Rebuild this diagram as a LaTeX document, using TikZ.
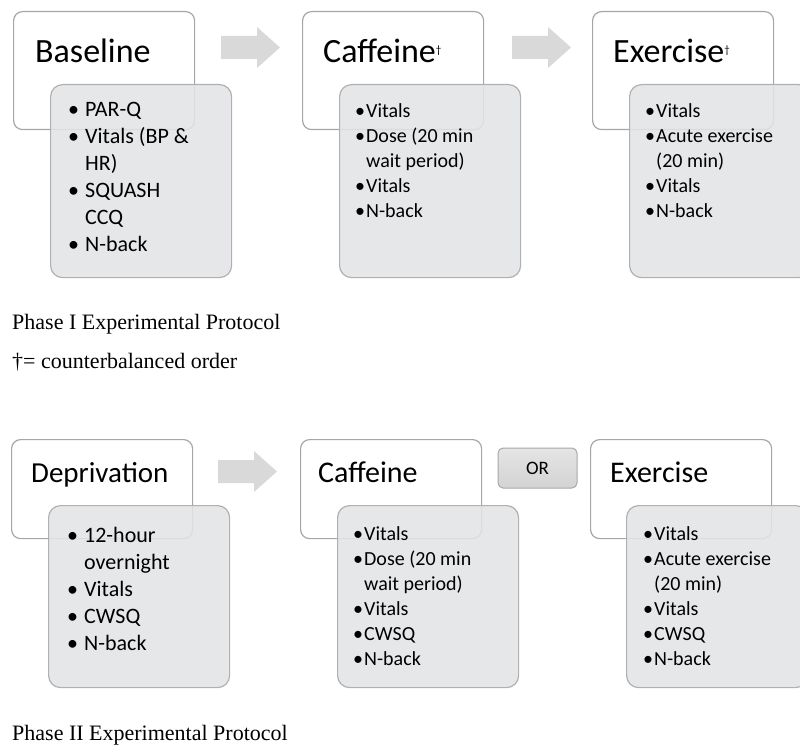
\documentclass[tikz,border=0pt]{standalone}
\usepackage{fontspec}
\setmainfont{Carlito}
\newfontfamily\serifont{Liberation Serif}
\usetikzlibrary{positioning}

\definecolor{hdrline}{HTML}{A6A6A6}
\definecolor{bodyline}{HTML}{B0B0B0}
\definecolor{bodyfill}{HTML}{E3E4E6}
\definecolor{arrowfill}{HTML}{D9D9D9}
\definecolor{orfill}{HTML}{D3D3D3}
\definecolor{orline}{HTML}{A8A8A8}

% list item with hanging indent
\newcommand{\itm}[2]{\par\hangindent=#1\hangafter=1\noindent\makebox[#1][l]{\textbullet}\strut#2}
% small dagger after a header
\newcommand{\cbmark}{\raisebox{9pt}{\fontsize{11}{11}\selectfont\textdagger}}
% grey block arrow: left end, middle height
\newcommand{\blockarrow}[2]{%
  \fill[arrowfill] (#1,{#2-11.5}) -- ({#1+36},{#2-11.5}) -- ({#1+36},{#2-20.5})
    -- ({#1+59},#2) -- ({#1+36},{#2+20.5}) -- ({#1+36},{#2+11.5}) -- (#1,{#2+11.5}) -- cycle;}

\tikzset{
  headbox/.style={draw=hdrline, line width=1.2pt, fill=white, rounded corners=9pt,
    minimum width=181pt, inner sep=0pt, anchor=north west},
  bodybox/.style={draw=bodyline, line width=1.2pt, fill=bodyfill, fill opacity=0.88,
    rounded corners=12pt, minimum width=181pt, inner sep=0pt, anchor=north west},
  headtext/.style={anchor=base west, inner sep=0pt},
  listbig/.style={anchor=north west, inner sep=0pt, text width=170pt, align=flush left,
    font=\fontsize{22}{27}\selectfont},
  listsmall/.style={anchor=north west, inner sep=0pt, text width=170pt, align=flush left,
    font=\fontsize{20}{25}\selectfont},
  caption/.style={anchor=base west, inner sep=0pt, font=\serifont\fontsize{22}{26}\selectfont},
  orbox/.style={draw=orline, line width=1pt, top color=orfill!60, bottom color=orfill,
    rounded corners=5pt, minimum width=79pt, minimum height=40pt, inner sep=0pt,
    font=\fontsize{19}{22}\selectfont}
}

\begin{document}
\begin{tikzpicture}[x=1pt, y=-1pt]
 \useasboundingbox (0,0) rectangle (800,746);

 % Phase I
 \node[headbox, minimum height=118pt] (basehd) at (13,11) {};
 \node[bodybox, minimum height=193pt] (basebd) at (50,84) {};
 \node[headtext, font=\fontsize{34}{38}\selectfont] (basett) at (35,63) {Baseline};
 \node[listbig] (baselst) at (68,89) {%
   \itm{17pt}{PAR-Q}
   \itm{17pt}{Vitals (BP \&\newline HR)}
   \itm{17pt}{SQUASH\newline CCQ}
   \itm{17pt}{N-back}};

 \blockarrow{221}{47.5}

 \node[headbox, minimum height=118pt] (cafhd) at (302,11) {};
 \node[bodybox, minimum height=193pt] (cafbd) at (339,84) {};
 \node[headtext, font=\fontsize{34}{38}\selectfont] (caftt) at (323,63) {Caffeine\cbmark};
 \node[listsmall] (caflst) at (355,92) {%
   \itm{11pt}{Vitals}
   \itm{11pt}{Dose (20 min\newline wait period)}
   \itm{11pt}{Vitals}
   \itm{11pt}{N-back}};

 \blockarrow{512}{47.5}

 \node[headbox, minimum height=118pt] (exehd) at (592,11) {};
 \node[bodybox, minimum height=193pt] (exebd) at (629,84) {};
 \node[headtext, font=\fontsize{34}{38}\selectfont] (exett) at (613,63) {Exercise\cbmark};
 \node[listsmall] (exelst) at (645,92) {%
   \itm{11pt}{Vitals}
   \itm{11pt}{Acute exercise\newline (20 min)}
   \itm{11pt}{Vitals}
   \itm{11pt}{N-back}};

 % captions Phase I
 \node[caption] (capone) at (12,329) {Phase I Experimental Protocol};
 \node[caption] (capdag) at (12,368) {\textdagger= counterbalanced order};

 % Phase II
 \node[headbox, minimum height=99pt] (dephd) at (11,439) {};
 \node[bodybox, minimum height=182pt] (depbd) at (48,505) {};
 \node[headtext, font=\fontsize{29}{33}\selectfont] (deptt) at (31,482) {Deprivation};
 \node[listbig] (deplst) at (67,515) {%
   \itm{17pt}{12-hour\newline overnight}
   \itm{17pt}{Vitals}
   \itm{17pt}{CWSQ}
   \itm{17pt}{N-back}};

 \blockarrow{218}{471.5}

 \node[headbox, minimum height=99pt] (caf2hd) at (300,439) {};
 \node[bodybox, minimum height=182pt] (caf2bd) at (337,505) {};
 \node[headtext, font=\fontsize{30}{34}\selectfont] (caf2tt) at (318,482) {Caffeine};
 \node[listsmall] (caf2lst) at (353,515) {%
   \itm{11pt}{Vitals}
   \itm{11pt}{Dose (20 min\newline wait period)}
   \itm{11pt}{Vitals}
   \itm{11pt}{CWSQ}
   \itm{11pt}{N-back}};

 \node[orbox] (orsel) at (537.5,468) {OR};

 \node[headbox, minimum height=99pt] (exe2hd) at (590,439) {};
 \node[bodybox, minimum height=182pt] (exe2bd) at (626,505) {};
 \node[headtext, font=\fontsize{30}{34}\selectfont] (exe2tt) at (610,482) {Exercise};
 \node[listsmall] (exe2lst) at (643,515) {%
   \itm{11pt}{Vitals}
   \itm{11pt}{Acute exercise\newline (20 min)}
   \itm{11pt}{Vitals}
   \itm{11pt}{CWSQ}
   \itm{11pt}{N-back}};

 % caption Phase II
 \node[caption] (captwo) at (12,740) {Phase II Experimental Protocol};
\end{tikzpicture}
\end{document}
